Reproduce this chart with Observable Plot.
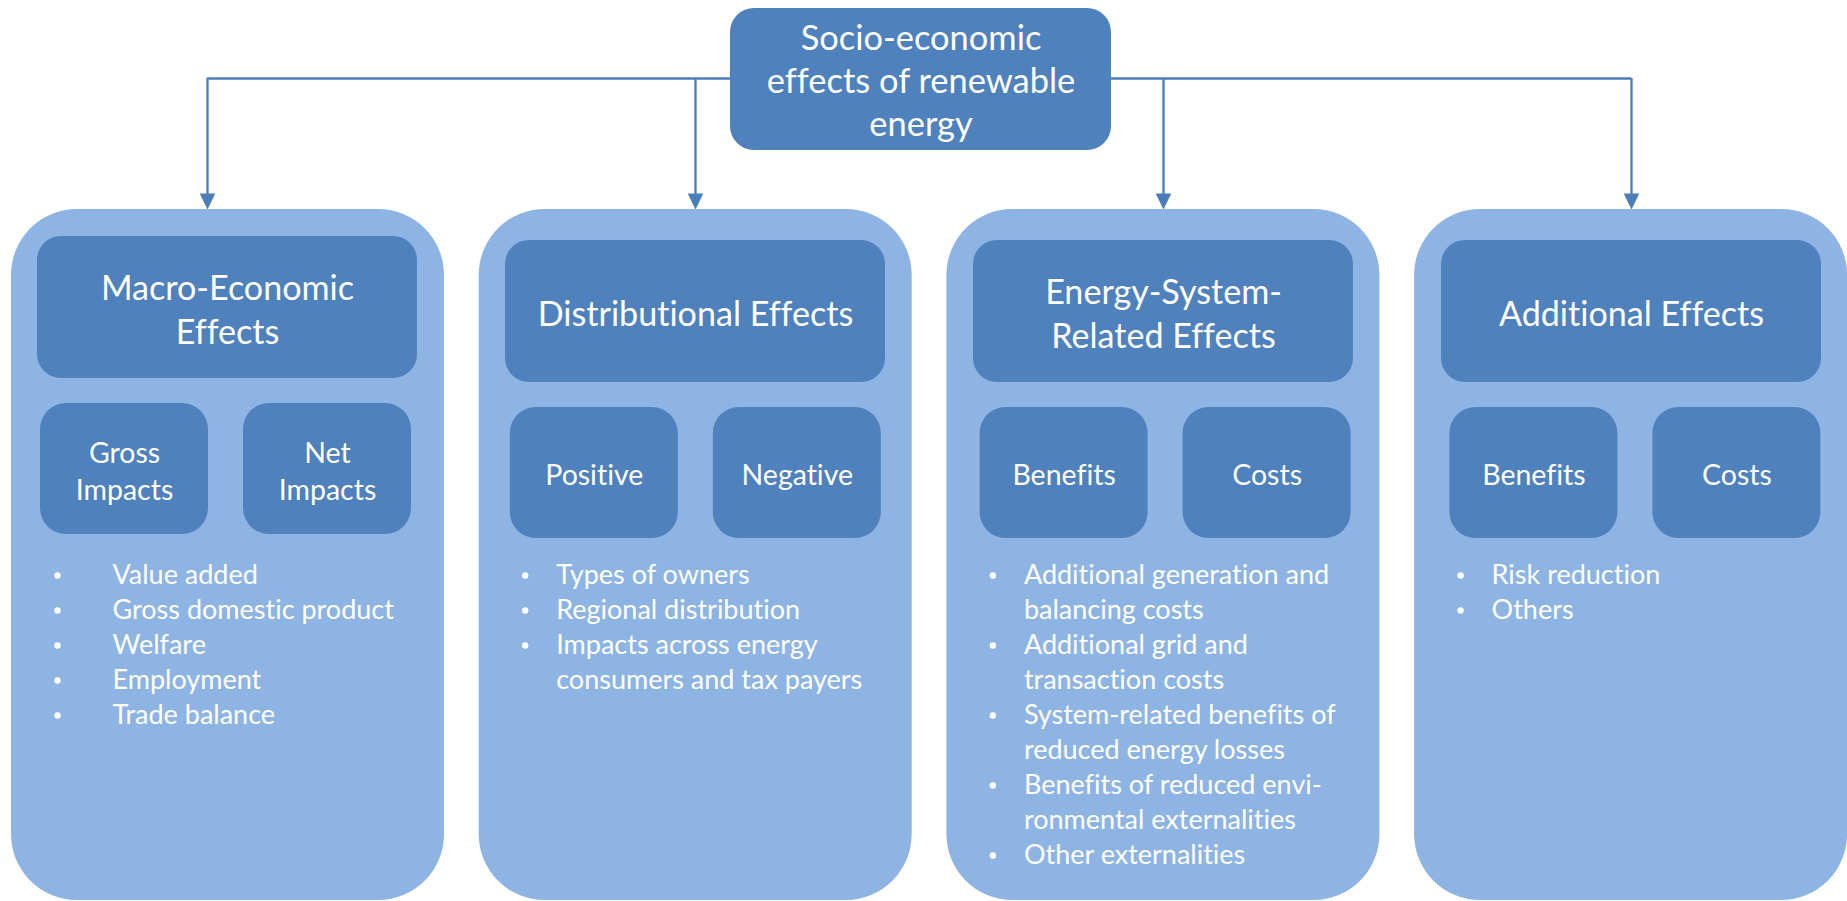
<!DOCTYPE html>
<html>
<head>
<meta charset="utf-8">
<script src="https://cdn.jsdelivr.net/npm/d3@7"></script>
<script src="https://cdn.jsdelivr.net/npm/@observablehq/plot@0.6"></script>
<style>
  html, body { margin: 0; padding: 0; background: #ffffff; }
  #chart svg { display: block; }
  #chart svg text { font-variant-ligatures: none; font-feature-settings: "liga" 0, "clig" 0; }
</style>
</head>
<body>
<div id="chart"></div>
<script>
// ---------- DATA ----------
const rootTitle = "Socio-economic\neffects of renewable\nenergy";
const categories = ["Macro-Economic\nEffects", "Distributional Effects", "Energy-System-\nRelated Effects", "Additional Effects"];
const leftLabels = ["Gross\nImpacts", "Positive", "Benefits", "Benefits"];
const rightLabels = ["Net\nImpacts", "Negative", "Costs", "Costs"];
const items0 = ["Value added", "Gross domestic product", "Welfare", "Employment", "Trade balance"];
const items1 = ["Types of owners", "Regional distribution", "Impacts across energy\nconsumers and tax payers"];
const items2 = ["Additional generation and\nbalancing costs", "Additional grid and\ntransaction costs", "System-related benefits of\nreduced energy losses", "Benefits of reduced envi-\nronmental externalities", "Other externalities"];
const items3 = ["Risk reduction", "Others"];
const itemLists = [items0, items1, items2, items3];

// ---------- LAYOUT / STYLE ----------
const W = 1847, H = 901;
const DARK = "#4f81bd", LIGHT = "#8eb4e3", LINE = "#4a7ebb";
const FONT = "Lato";
const panelLeft = i => 11 + i * 467.7;
const panelW = 433;
const shift = [-4, 0, 0, 0];
const arrowX = [207, 695, 1163, 1631];
const indent = [101, 77, 77, 77];
const connectorY = 78;

const ctx = document.createElement("canvas").getContext("2d");
function fit(str, target) {
  ctx.font = `100px ${FONT}`;
  return 100 * target / ctx.measureText(str).width;
}
const fsTitle = fit("effects of renewable", 308);
const fsHead = fit("Distributional Effects", 315);
const fsSub = fit("Negative", 112);
const fsItem = fit("Gross domestic product", 282);

const panels = categories.map((name, i) => ({name, i}));
const subs = [];
panels.forEach(p => {
  subs.push({i: p.i, side: 0, label: leftLabels[p.i]});
  subs.push({i: p.i, side: 1, label: rightLabels[p.i]});
});
const lines = [];
itemLists.forEach((list, i) => {
  let k = 0;
  list.forEach(item => {
    item.split("\n").forEach((t, j) => {
      lines.push({i, text: t, first: j === 0, row: k});
      k++;
    });
  });
});

const headX1 = d => 37 + d.i * 468, headX2 = d => 37 + d.i * 468 + 380;
const subX1 = d => (d.side ? 243 : 40) + d.i * 469.8;
const subX2 = d => subX1(d) + 168;

const triangle = {
  draw(c) {
    c.moveTo(-7.8, -16);
    c.lineTo(7.8, -16);
    c.lineTo(0, 0);
    c.closePath();
  }
};

const chart = Plot.plot({
  width: W,
  height: H,
  margin: 0,
  x: {domain: [0, W], range: [0, W], axis: null},
  y: {domain: [0, H], range: [0, H], axis: null},
  style: {background: "#ffffff", fontFamily: FONT},
  marks: [
    // connectors
    Plot.ruleY([connectorY], {x1: arrowX[0], x2: arrowX[3], stroke: LINE, strokeWidth: 2.3}),
    Plot.ruleX(arrowX, {x: d => d, y1: () => connectorY, y2: () => 196, stroke: LINE, strokeWidth: 2.3}),
    Plot.dot(arrowX, {x: d => d, y: () => 209, symbol: triangle, fill: LINE, stroke: "none"}),
    // root box
    Plot.rect([rootTitle], {x1: () => 730, x2: () => 1111, y1: () => 8, y2: () => 150, fill: DARK, rx: 24}),
    Plot.text([rootTitle], {x: () => 920.5, y: () => 78.5, text: d => d, fill: "white", fontSize: fsTitle, lineHeight: 43 / fsTitle, textAnchor: "middle", lineAnchor: "middle"}),
    // panels
    Plot.rect(panels, {x1: d => panelLeft(d.i), x2: d => panelLeft(d.i) + panelW, y1: () => 209, y2: () => 900, fill: LIGHT, rx: 66}),
    Plot.rect(panels, {x1: headX1, x2: headX2, y1: d => 240 + shift[d.i], y2: d => 382 + shift[d.i], fill: DARK, rx: 24}),
    Plot.text(panels, {x: d => (headX1(d) + headX2(d)) / 2, y: d => 311 + shift[d.i], text: "name", fill: "white", fontSize: fsHead, lineHeight: 44 / fsHead, textAnchor: "middle", lineAnchor: "middle"}),
    // sub boxes
    Plot.rect(subs, {x1: subX1, x2: subX2, y1: d => 407 + shift[d.i], y2: d => 538 + shift[d.i], fill: DARK, rx: 26}),
    Plot.text(subs, {x: d => (subX1(d) + subX2(d)) / 2, y: d => 473 + shift[d.i], text: "label", fill: "white", fontSize: fsSub, lineHeight: 37 / fsSub, textAnchor: "middle", lineAnchor: "middle"}),
    // bullet lists
    Plot.dot(lines.filter(d => d.first), {x: d => panelLeft(d.i) + 46, y: d => 575 + d.row * 35, r: 3.2, fill: "white", stroke: "none"}),
    Plot.text(lines, {x: d => panelLeft(d.i) + indent[d.i], y: d => 575 + d.row * 35, text: "text", fill: "white", fontSize: fsItem, textAnchor: "start", lineAnchor: "middle"})
  ]
});
document.getElementById("chart").appendChild(chart);
</script>
</body>
</html>
